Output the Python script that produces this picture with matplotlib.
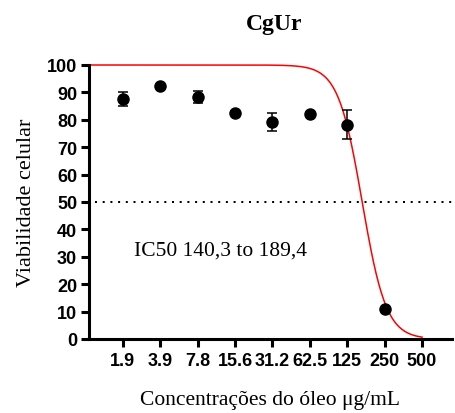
import numpy as np
import matplotlib
matplotlib.use("Agg")
import matplotlib.pyplot as plt

# Data
conc_labels = ["1.9", "3.9", "7.8", "15.6", "31.2", "62.5", "125", "250", "500"]
viab_conc = ["1.9", "3.9", "7.8", "15.6", "31.2", "62.5", "125", "250"]
viab_mean = [87.7, 92.2, 88.3, 82.5, 79.1, 82.0, 78.2, 10.8]
viab_err = [2.5, 0.6, 2.3, 0.5, 3.2, 0.6, 5.2, 0.5]

# Fitted dose-response curve parameters (from chart)
fit_top = 100.0
fit_bottom = 0.0
fit_ic50 = 165.0       # ug/mL
fit_hill = 4.5
conc_min = 1.953       # concentration of first tick

ic50_text = "IC50 140,3 to 189,4"

serif = ["Liberation Serif", "DejaVu Serif"]
sans = ["Liberation Sans", "DejaVu Sans"]

fig = plt.figure(figsize=(4.56, 4.14), dpi=100)
ax = fig.add_axes([89/456, 1-340/414, (452-89)/456, (340-66)/414])

xpos = np.arange(len(conc_labels))
pt_pos = [conc_labels.index(c) for c in viab_conc]

# fitted curve (x axis = log2 spacing of doubling dilutions)
xi = np.linspace(-0.9, len(conc_labels) - 1, 400)
cc = conc_min * 2.0 ** xi
yc = fit_bottom + (fit_top - fit_bottom) / (1 + (cc / fit_ic50) ** fit_hill)
ax.plot(xi, yc, color="#ff0000", lw=1.1, clip_on=False, zorder=2)

# 50% line
ax.axhline(50, xmin=0.017, xmax=1.0, color="black", lw=1.44,
           linestyle=(0, (1, 2.85)), zorder=1)

ax.errorbar(pt_pos, viab_mean, yerr=viab_err, fmt="o", color="black",
            ms=8, capsize=3.8, elinewidth=1.1, capthick=1.1, zorder=3,
            clip_on=False)

ax.text(0.29, 31, ic50_text, fontsize=15.5, family=serif, ha="left",
        va="baseline")

ax.set_xlim(-0.9, 8.8)
ax.set_ylim(0, 100)
ax.set_xticks(xpos)
ax.set_xticklabels(conc_labels)
ax.set_yticks(np.arange(0, 101, 10))

for s in ["top", "right"]:
    ax.spines[s].set_visible(False)
for s in ["left", "bottom"]:
    ax.spines[s].set_linewidth(2.2)

ax.tick_params(axis="both", length=5.5, width=2.2, direction="out")
ax.tick_params(axis="y", pad=3)
ax.tick_params(axis="x", pad=4)
for lab in ax.get_xticklabels() + ax.get_yticklabels():
    lab.set_family(sans)
    lab.set_fontweight("bold")
    lab.set_fontsize(13)

ax.set_ylabel("Viabilidade celular", family=serif, fontsize=16, labelpad=8)
ax.set_xlabel("Concentrações do óleo μg/mL", family=serif, fontsize=15.5,
              labelpad=15)
fig.text(274/456, 1-30/414, "CgUr", family=serif, fontweight="bold",
         fontsize=17, ha="center", va="baseline")

fig.savefig("out.png", dpi=100)
